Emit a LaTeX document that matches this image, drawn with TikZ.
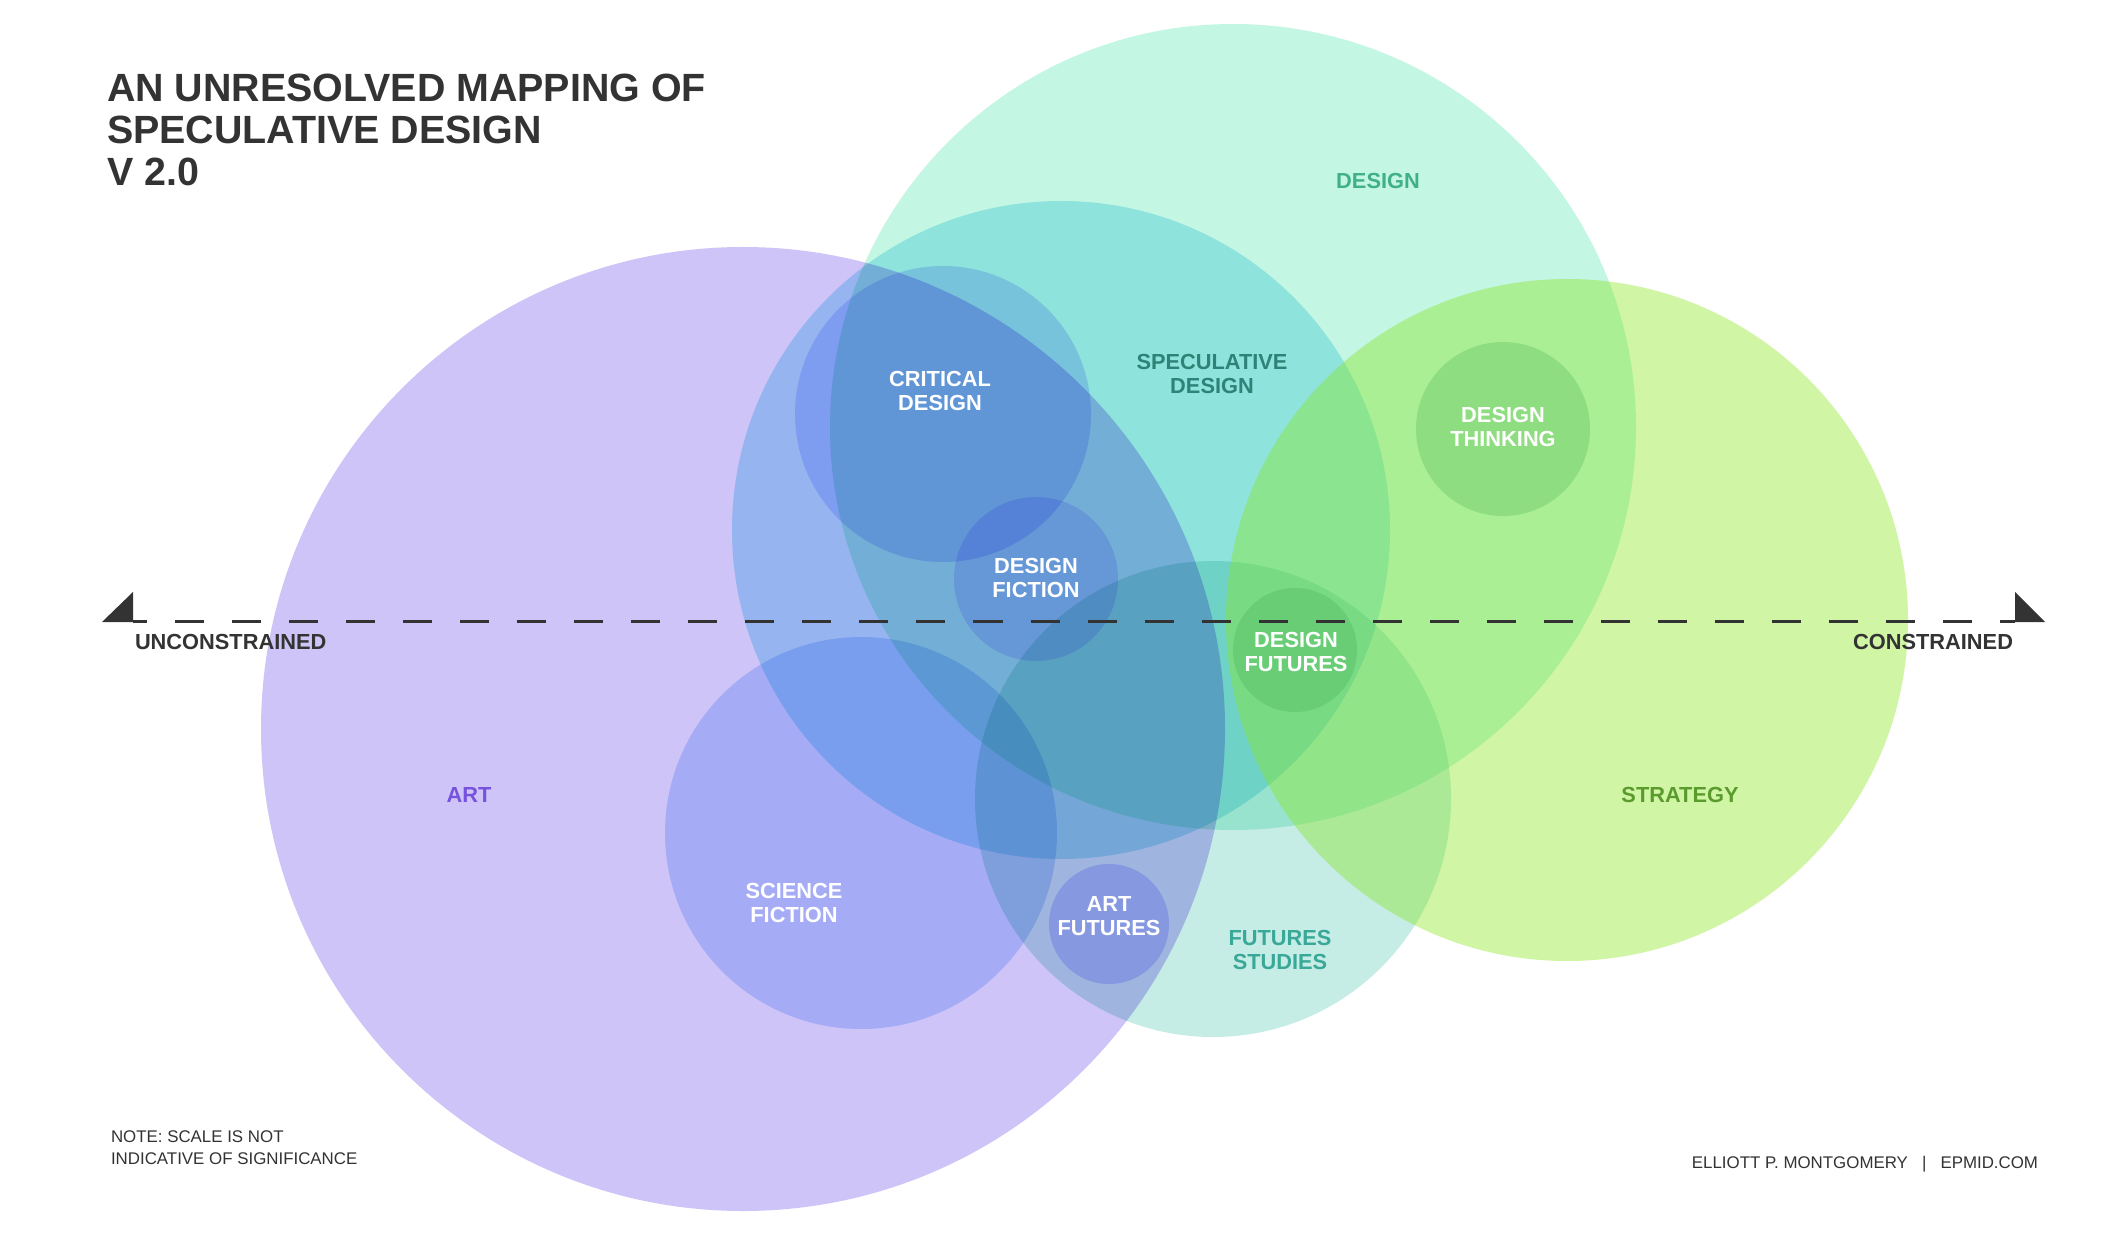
\documentclass[tikz,border=0pt]{standalone}
\usepackage{fontspec}
\setmainfont{Liberation Sans}
\usetikzlibrary{arrows.meta}
\definecolor{VennArt}{RGB}{206,196,248}
\definecolor{VennDesign}{RGB}{196,246,228}
\definecolor{VennSpeculative}{RGB}{186,236,247}
\definecolor{VennStrategy}{RGB}{135,230,30}
\definecolor{VennFutures}{RGB}{198,236,230}
\definecolor{VennScifi}{RGB}{205,224,252}
\definecolor{VennCritical}{RGB}{215,220,255}
\definecolor{VennFiction}{RGB}{228,222,255}
\definecolor{VennArtFutures}{RGB}{215,215,255}
\definecolor{VennDesignFutures}{RGB}{225,240,232}
\definecolor{VennThinking}{RGB}{212,236,222}
\definecolor{VennInk}{gray}{0.2}
\definecolor{ArtInk}{RGB}{119,82,222}
\definecolor{DesignInk}{RGB}{64,176,136}
\definecolor{SpecInk}{RGB}{46,130,118}
\definecolor{StrategyInk}{RGB}{91,155,46}
\definecolor{FuturesInk}{RGB}{58,168,152}
\tikzset{
    venn/diagram/.style={
        line cap=butt,
        every node/.style={inner sep=0pt, outer sep=0pt}
    },
    venn/label/.style={
        font=\bfseries\fontsize{6.2}{6.8}\selectfont,
        align=center, text=white
    },
    venn/title/.style={
        font=\bfseries\fontsize{11.2}{11.95}\selectfont,
        align=left, text=VennInk
    },
    venn/note/.style={
        font=\fontsize{4.8}{6.26}\selectfont,
        align=left, text=VennInk
    },
    venn/axis/.style={
        draw=VennInk, line width=0.03cm,
        dash pattern=on 0.29cm off 0.28cm, dash phase=0.15cm
    },
    venn/tip/.style={fill=VennInk}
}

\begin{document}
\begin{tikzpicture}[venn/diagram, x=0.01cm, y=-0.01cm]
    \fill[white] (0,0) rectangle (2106,1246);
    \useasboundingbox (0,0) rectangle (2106,1246);

    \begin{scope}[blend mode=multiply]
        \fill[VennArt] (743,729) circle[radius=482];
        \fill[VennDesign] (1233,427) circle[radius=403];
        \fill[VennSpeculative] (1061,530) circle[radius=329];
        \fill[VennFutures] (1213,799) circle[radius=238];
        \fill[VennScifi] (861,833) circle[radius=196];
        \fill[VennCritical] (943,414) circle[radius=148];
        \fill[VennFiction] (1036,579) circle[radius=82];
        \fill[VennArtFutures] (1109,924) circle[radius=60];
    \end{scope}
    \fill[VennStrategy, fill opacity=0.4] (1567,620) circle[radius=341];
    \begin{scope}[blend mode=multiply]
        \fill[VennDesignFutures] (1295,650) circle[radius=62];
        \fill[VennThinking] (1503,429) circle[radius=87];
    \end{scope}

    \node[venn/label, text=ArtInk] (art) at (469,795) {ART};
    \node[venn/label, text=DesignInk] (design) at (1378,181) {DESIGN};
    \node[venn/label, text=SpecInk] (speculative) at (1212,374) {SPECULATIVE\\DESIGN};
    \node[venn/label, text=StrategyInk] (strategy) at (1680,795) {STRATEGY};
    \node[venn/label, text=FuturesInk] (futures) at (1280,950) {FUTURES\\STUDIES};
    \node[venn/label] (critical) at (940,391) {CRITICAL\\DESIGN};
    \node[venn/label] (fiction) at (1036,578) {DESIGN\\FICTION};
    \node[venn/label] (dfutures) at (1296,652) {DESIGN\\FUTURES};
    \node[venn/label] (thinking) at (1503,427) {DESIGN\\THINKING};
    \node[venn/label] (scifi) at (794,903) {SCIENCE\\FICTION};
    \node[venn/label] (afutures) at (1109,916) {ART\\FUTURES};

    % axis
    \coordinate (axisL) at (133,621);
    \coordinate (axisR) at (2015,621);
    \draw[venn/axis] (axisL) -- (axisR);
    \fill[venn/tip] (axisL) ++(-31,1) -- ++(31,0) -- ++(0,-30) -- cycle;
    \fill[venn/tip] (axisR) ++(30,1) -- ++(-30,0) -- ++(0,-30) -- cycle;
    \node[venn/label, text=VennInk, anchor=base west] (unconstrained) at (135,649) {UNCONSTRAINED};
    \node[venn/label, text=VennInk, anchor=base east] (constrained) at (2013,649) {CONSTRAINED};

    \node[venn/title, anchor=north west] (title) at (107,74)
        {AN UNRESOLVED MAPPING OF\\SPECULATIVE DESIGN\\V 2.0};
    \node[venn/note, anchor=north west] (note) at (111,1131)
        {NOTE: SCALE IS NOT\\INDICATIVE OF SIGNIFICANCE};
    \node[venn/note, anchor=base east] (credit) at (2038,1168)
        {ELLIOTT P. MONTGOMERY \ \ | \ \ EPMID.COM};
\end{tikzpicture}
\end{document}
